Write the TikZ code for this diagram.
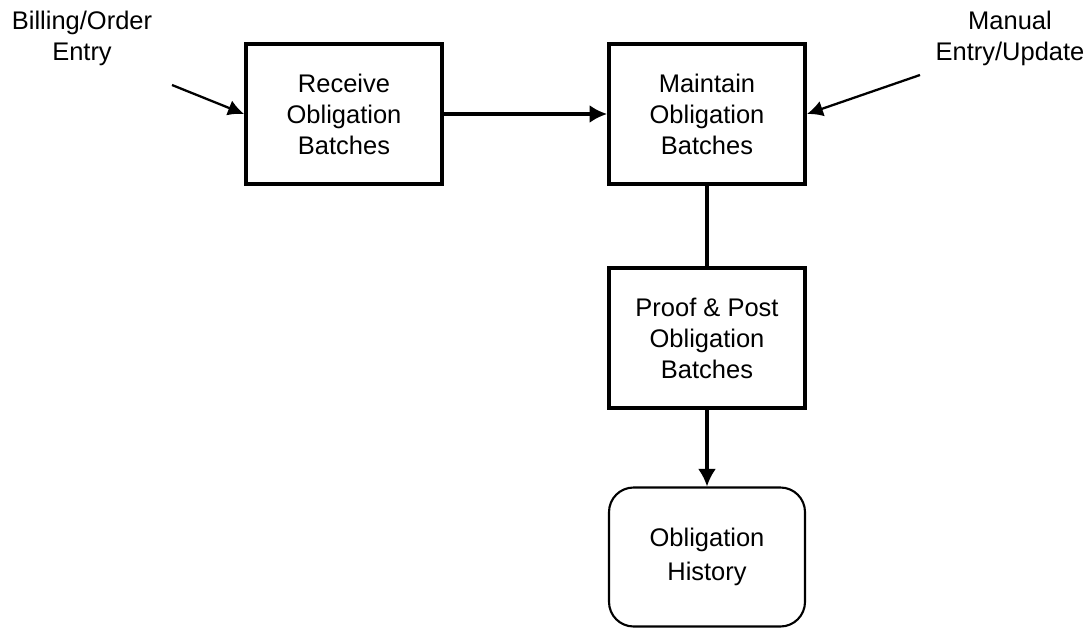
\documentclass[tikz,border=0pt]{standalone}
\usepackage{fontspec}
\setmainfont{Liberation Sans}
\usetikzlibrary{arrows.meta}
\tikzset{
	procbox/.style={draw,line width=2.2pt,minimum width=3.92cm,minimum height=2.8cm,align=center,inner sep=0pt},
	storebox/.style={draw,line width=1.2pt,rounded corners=14pt,minimum width=3.92cm,minimum height=2.78cm,align=center,inner sep=0pt},
	flow/.style={-{Latex[length=3.5mm,width=3.6mm]},line width=1.8pt},
	inflow/.style={-{Latex[length=3.2mm,width=3.2mm]},line width=1.3pt},
}
\begin{document}
\begin{tikzpicture}[font=\fontsize{14.5}{17.6}\selectfont]
	\useasboundingbox (0,0) rectangle (21.84,-12.56);
	% process boxes
	\node[procbox] (receive) at (6.88,-2.28) {Receive\\Obligation\\Batches};
	\node[procbox] (maintain) at (14.14,-2.28) {Maintain\\Obligation\\Batches};
	\node[procbox] (post) at (14.14,-6.76) {Proof \& Post\\Obligation\\Batches};
	\node[storebox] (history) at (14.14,-11.14) {Obligation\\[2pt]History};
	% outside inputs
	\node[align=center] (billing) at (1.64,-0.77) {Billing/Order\\Entry};
	\node[align=center] (manual) at (20.2,-0.77) {Manual\\Entry/Update};
	\coordinate (billingEnd) at (3.44,-1.70);
	\coordinate (manualEnd) at (18.4,-1.50);
	\draw[inflow] (billingEnd) -- (receive.west);
	\draw[inflow] (manualEnd) -- (maintain.east);
	% flow
	\draw[flow] (receive) -- (maintain);
	\draw[line width=1.8pt] (maintain) -- (post);
	\draw[flow] (post) -- (history);
\end{tikzpicture}
\end{document}
